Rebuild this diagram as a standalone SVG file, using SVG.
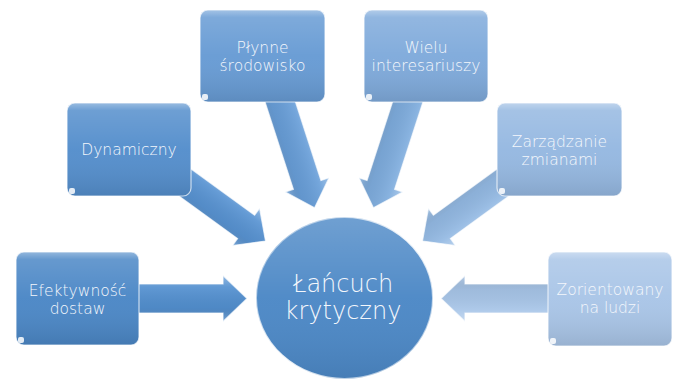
<svg xmlns="http://www.w3.org/2000/svg" width="680" height="381" viewBox="0 0 680 381">
<defs>
<linearGradient id="shade" x1="0" y1="0" x2="0" y2="1">
<stop offset="0" stop-color="#fff" stop-opacity="0.4"/>
<stop offset="0.08" stop-color="#fff" stop-opacity="0.15"/>
<stop offset="0.5" stop-color="#fff" stop-opacity="0.03"/>
<stop offset="1" stop-color="#000" stop-opacity="0.1"/>
</linearGradient>
<linearGradient id="ashade" x1="0" y1="0" x2="0" y2="1">
<stop offset="0" stop-color="#fff" stop-opacity="0.35"/>
<stop offset="0.25" stop-color="#fff" stop-opacity="0.08"/>
<stop offset="0.7" stop-color="#000" stop-opacity="0.05"/>
<stop offset="1" stop-color="#fff" stop-opacity="0.25"/>
</linearGradient>
<linearGradient id="cshade" x1="0" y1="0" x2="0" y2="1">
<stop offset="0" stop-color="#fff" stop-opacity="0.2"/>
<stop offset="0.5" stop-color="#fff" stop-opacity="0.03"/>
<stop offset="1" stop-color="#000" stop-opacity="0.08"/>
</linearGradient>
<linearGradient id="rim" x1="0" y1="0" x2="1" y2="1">
<stop offset="0" stop-color="#fff" stop-opacity="0.3"/>
<stop offset="0.5" stop-color="#fff" stop-opacity="0.9"/>
<stop offset="1" stop-color="#fff" stop-opacity="0.4"/>
</linearGradient>
<polygon id="arr" points="0,0 -24,-23 -24,-14.5 -125,-14.5 -125,14.5 -24,14.5 -24,23"/>
</defs>
<style>
.t{font-family:"DejaVu Sans","Liberation Sans",sans-serif;font-weight:200;font-size:15.5px;fill:#f4f7fc;text-anchor:middle}
.tc{font-size:24px}
.edge{stroke:#ffffff;stroke-opacity:0.7;stroke-width:1.2}
.gl{fill:url(#shade)}
.ag{fill:url(#ashade)}
.tab{fill:#ffffff;fill-opacity:0.85}
</style>
<g id="connectors">
<g transform="translate(247,298.5)"><use href="#arr" fill="#5390d0"/><use href="#arr" class="ag edge"/></g>
<g transform="translate(265.5,241) rotate(36)"><use href="#arr" fill="#5893d2"/><use href="#arr" class="ag edge"/></g>
<g transform="translate(314.6,207.7) rotate(72)"><use href="#arr" fill="#689ed8"/><use href="#arr" class="ag edge"/></g>
<g transform="translate(373.4,207.7) rotate(108)"><use href="#arr" fill="#7eacdd"/><use href="#arr" class="ag edge"/></g>
<g transform="translate(422.5,241) rotate(144)"><use href="#arr" fill="#93b9e3"/><use href="#arr" class="ag edge"/></g>
<g transform="translate(441,298.5) rotate(180)"><use href="#arr" fill="#a7c5e8"/><use href="#arr" class="ag edge"/></g>
</g>
<g id="n1">
<rect x="16" y="252" width="123" height="93" rx="8" fill="#4b87c6"/>
<rect x="16" y="252" width="123" height="93" rx="8" class="gl edge"/>
<rect x="18" y="337" width="6" height="6" rx="2" class="tab"/>
<text class="t" x="77.5" y="296">Efektywność</text>
<text class="t" x="77.5" y="314">dostaw</text>
</g>
<g id="n2">
<rect x="67" y="103" width="124" height="93" rx="8" fill="#548ecc"/>
<rect x="67" y="103" width="124" height="93" rx="8" class="gl edge"/>
<rect x="69" y="188" width="6" height="6" rx="2" class="tab"/>
<text class="t" x="129" y="155">Dynamiczny</text>
</g>
<g id="n3">
<rect x="200" y="10" width="125" height="92" rx="8" fill="#679bd4"/>
<rect x="200" y="10" width="125" height="92" rx="8" class="gl edge"/>
<rect x="202" y="94" width="6" height="6" rx="2" class="tab"/>
<text class="t" x="262.5" y="53">Płynne</text>
<text class="t" x="262.5" y="71">środowisko</text>
</g>
<g id="n4">
<rect x="364" y="10" width="124" height="92" rx="8" fill="#7faadb"/>
<rect x="364" y="10" width="124" height="92" rx="8" class="gl edge"/>
<rect x="366" y="94" width="6" height="6" rx="2" class="tab"/>
<text class="t" x="426" y="53">Wielu</text>
<text class="t" x="426" y="71">interesariuszy</text>
</g>
<g id="n5">
<rect x="497" y="103" width="125" height="93" rx="8" fill="#95b8e1"/>
<rect x="497" y="103" width="125" height="93" rx="8" class="gl edge"/>
<rect x="499" y="188" width="6" height="6" rx="2" class="tab"/>
<text class="t" x="559.5" y="146.5">Zarządzanie</text>
<text class="t" x="559.5" y="164.5">zmianami</text>
</g>
<g id="n6">
<rect x="548" y="252" width="124" height="94" rx="8" fill="#a9c5e7"/>
<rect x="548" y="252" width="124" height="94" rx="8" class="gl edge"/>
<rect x="550" y="338" width="6" height="6" rx="2" class="tab"/>
<text class="t" x="610" y="295">Zorientowany</text>
<text class="t" x="610" y="313">na ludzi</text>
</g>
<g id="center">
<ellipse cx="344.5" cy="298" rx="88.5" ry="81" fill="#4c88c6"/>
<ellipse cx="344.5" cy="298" rx="88.5" ry="81" fill="url(#cshade)" stroke="url(#rim)" stroke-width="2"/>
<text class="t tc" x="343" y="292">Łańcuch</text>
<text class="t tc" x="343" y="319">krytyczny</text>
</g>
</svg>
